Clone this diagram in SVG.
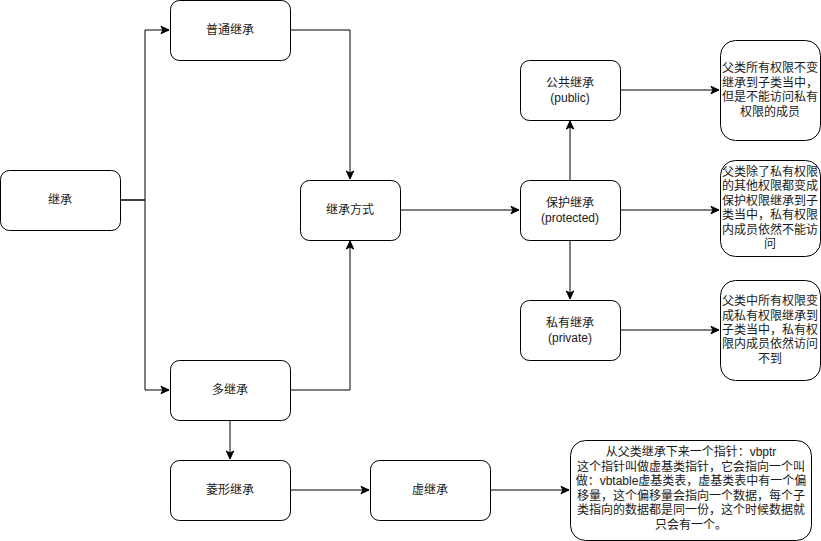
<svg xmlns="http://www.w3.org/2000/svg" width="821" height="541" viewBox="0 0 821 541">
<style>
.n{fill:#fff;stroke:#000;stroke-width:1}
.t{font-family:"Liberation Sans","Noto Sans CJK SC",sans-serif;font-size:12px;fill:#1a1a1a;text-anchor:middle;dominant-baseline:central}
.c{fill:none;stroke:#000;stroke-width:1;marker-end:url(#a)}
</style>
<defs>
<marker id="a" markerUnits="userSpaceOnUse" markerWidth="10" markerHeight="10" viewBox="0 0 10 10" refX="9" refY="5" orient="auto">
<path d="M1,1.3 L9,5 L1,8.7 L3,5 z" fill="#000" stroke="#000" stroke-width="1"/>
</marker>
</defs>
<rect width="821" height="541" fill="#fff"/>
<g id="connectors">
<path class="c" d="M120,200 H145 V30 H169"/>
<path class="c" d="M120,200 H145 V390 H169"/>
<path class="c" d="M290,30 H350 V179"/>
<path class="c" d="M290,390 H350 V241"/>
<path class="c" d="M400,210 H519"/>
<path class="c" d="M570,180 V121"/>
<path class="c" d="M570,240 V299"/>
<path class="c" d="M620,90 H719"/>
<path class="c" d="M620,210 H719"/>
<path class="c" d="M620,330 H719"/>
<path class="c" d="M230,420 V459"/>
<path class="c" d="M290,490 H369"/>
<path class="c" d="M490,490 H569"/>
</g>
<g id="jicheng"><rect class="n" x="0.5" y="170.5" width="120" height="60" rx="9"/><text class="t" x="60" y="200">继承</text></g>
<g id="putong"><rect class="n" x="170.5" y="0.5" width="120" height="60" rx="9"/><text class="t" x="230" y="30">普通继承</text></g>
<g id="fangshi"><rect class="n" x="300.5" y="180.5" width="100" height="60" rx="9"/><text class="t" x="350" y="210">继承方式</text></g>
<g id="duo"><rect class="n" x="170.5" y="360.5" width="120" height="60" rx="9"/><text class="t" x="230" y="390">多继承</text></g>
<g id="lingxing"><rect class="n" x="170.5" y="460.5" width="120" height="60" rx="9"/><text class="t" x="230" y="490">菱形继承</text></g>
<g id="xu"><rect class="n" x="370.5" y="460.5" width="120" height="60" rx="9"/><text class="t" x="430" y="490">虚继承</text></g>
<g id="public"><rect class="n" x="520.5" y="60.5" width="100" height="60" rx="9"/><text class="t" x="570" y="83">公共继承</text><text class="t" x="570" y="98">(public)</text></g>
<g id="protected"><rect class="n" x="520.5" y="180.5" width="100" height="60" rx="9"/><text class="t" x="570" y="203">保护继承</text><text class="t" x="570" y="218">(protected)</text></g>
<g id="private"><rect class="n" x="520.5" y="300.5" width="100" height="60" rx="9"/><text class="t" x="570" y="323">私有继承</text><text class="t" x="570" y="338">(private)</text></g>
<g id="note1"><rect class="n" x="720.5" y="40.5" width="100" height="100" rx="15"/>
<text class="t" x="770" y="68.4">父类所有权限不变</text><text class="t" x="770" y="82.8">继承到子类当中，</text><text class="t" x="770" y="97.2">但是不能访问私有</text><text class="t" x="770" y="111.6">权限的成员</text></g>
<g id="note2"><rect class="n" x="720.5" y="160.5" width="100" height="96" rx="15"/>
<text class="t" x="770" y="172">父类除了私有权限</text><text class="t" x="770" y="186.4">的其他权限都变成</text><text class="t" x="770" y="200.8">保护权限继承到子</text><text class="t" x="770" y="215.2">类当中，私有权限</text><text class="t" x="770" y="229.6">内成员依然不能访</text><text class="t" x="770" y="244">问</text></g>
<g id="note3"><rect class="n" x="720.5" y="280.5" width="100" height="100" rx="15"/>
<text class="t" x="770" y="301.2">父类中所有权限变</text><text class="t" x="770" y="315.6">成私有权限继承到</text><text class="t" x="770" y="330">子类当中，私有权</text><text class="t" x="770" y="344.4">限内成员依然访问</text><text class="t" x="770" y="358.8">不到</text></g>
<g id="note4"><rect class="n" x="570.5" y="440.5" width="241" height="100" rx="15"/>
<text class="t" x="691" y="452">从父类继承下来一个指针：vbptr</text><text class="t" x="691" y="466.6">这个指针叫做虚基类指针，它会指向一个叫</text><text class="t" x="691" y="481.2">做：vbtable虚基类表，虚基类表中有一个偏</text><text class="t" x="691" y="495.8">移量，这个偏移量会指向一个数据，每个子</text><text class="t" x="691" y="510.4">类指向的数据都是同一份，这个时候数据就</text><text class="t" x="691" y="525">只会有一个。</text></g>
</svg>
